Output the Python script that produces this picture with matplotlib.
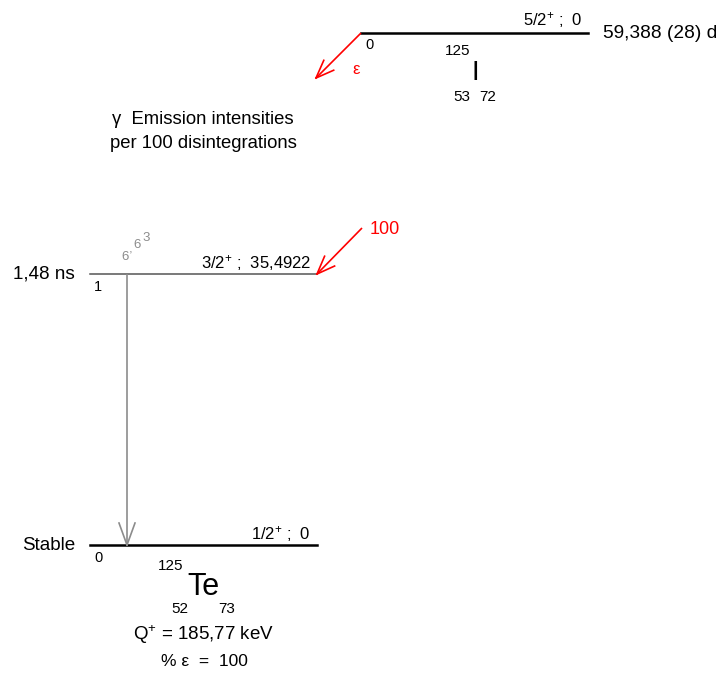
import numpy as np
import matplotlib
matplotlib.use('Agg')
import matplotlib.pyplot as plt

plt.rcParams['font.family'] = ['Liberation Sans', 'DejaVu Sans']
plt.rcParams['mathtext.fontset'] = 'custom'
plt.rcParams['mathtext.rm'] = 'Liberation Sans'
plt.rcParams['mathtext.default'] = 'regular'

# --- decay data (125I -> 125Te, electron capture) ---
parent_symbol = 'I'
parent_mass, parent_z, parent_n = 125, 53, 72
parent_spin = '5/2'
parent_energy = '0'
parent_half_life = '59,388 (28) d'

daughter_symbol = 'Te'
daughter_mass, daughter_z, daughter_n = 125, 52, 73
level_index = ['0', '1']
level_spin = ['1/2', '3/2']
level_energy = ['0', '35,4922']
level_half_life = ['Stable', '1,48 ns']
level_feeding = [None, '100']

gamma_from = [1]
gamma_to = [0]
gamma_intensity = ['6,63']

q_value = '185,77 keV'
branching = '100'

# --- layout (pixel coordinates of the 722x674 canvas) ---
level_y = [545, 274]
level_x0, level_x1 = 90, 317
parent_y, parent_x0, parent_x1 = 33, 361, 588
gamma_x = 127

fig = plt.figure(figsize=(7.22, 6.74), dpi=100)
ax = fig.add_axes([0, 0, 1, 1])
ax.set_xlim(0, 722)
ax.set_ylim(674, 0)
ax.axis('off')

RED = '#ff0000'
GRAY = '#8c8c8c'


def open_arrow(x0, y0, x1, y1, color, lw=1.2, head_len=18, head_w=7):
    ax.plot([x0, x1], [y0, y1], color=color, lw=lw, solid_capstyle='butt')
    d = np.array([x1 - x0, y1 - y0], dtype=float)
    d /= np.hypot(*d)
    n = np.array([-d[1], d[0]])
    tip = np.array([x1, y1])
    base = tip - d * head_len
    for s in (1, -1):
        b = base + s * n * head_w
        ax.plot([tip[0], b[0]], [tip[1], b[1]], color=color, lw=lw)


# parent level
ax.plot([parent_x0, parent_x1], [parent_y, parent_y], color='black', lw=1.8)
ax.text(583, 25, parent_spin + '$^{+}$ ;  ' + parent_energy, fontsize=12,
        ha='right', va='baseline')
ax.text(603, 33, parent_half_life, fontsize=13.8, ha='left', va='center')
ax.text(365, 45, parent_energy, fontsize=10.5, ha='left', va='center')
ax.text(458, 51, str(parent_mass), fontsize=11, ha='center', va='center')
ax.text(475, 73, parent_symbol, fontsize=20, ha='center', va='center')
ax.text(462, 97, str(parent_z), fontsize=11, ha='center', va='center')
ax.text(488, 97, str(parent_n), fontsize=11, ha='center', va='center')

# electron capture arrow
open_arrow(parent_x0, parent_y, 316, 78, RED)
ax.text(356, 70, 'ε', fontsize=12, color=RED, ha='center', va='center')

ax.text(203, 119, 'γ  Emission intensities', fontsize=13.3, ha='center', va='center')
ax.text(203, 143, 'per 100 disintegrations', fontsize=13.3, ha='center', va='center')

# daughter levels
for i, y in enumerate(level_y):
    col = 'black' if i == 0 else '#555555'
    lw = 1.8 if i == 0 else 1.1
    ax.plot([level_x0, level_x1], [y, y], color=col, lw=lw)
    ax.text(75, y, level_half_life[i], fontsize=13.6, ha='right', va='center')
    ax.text(94, y + 13, level_index[i], fontsize=10.5, ha='left', va='center')
    ax.text(311, y - 6, level_spin[i] + '$^{+}$ ;  ' + level_energy[i],
            fontsize=12, ha='right', va='baseline')
    if level_feeding[i] is not None:
        open_arrow(362, y - 46, level_x1, y, RED)
        ax.text(370, y - 45, level_feeding[i], fontsize=13, color=RED,
                ha='left', va='center')

# gamma transitions
for g, (a, b) in enumerate(zip(gamma_from, gamma_to)):
    open_arrow(gamma_x, level_y[a], gamma_x, level_y[b], GRAY, lw=1.2,
               head_len=22, head_w=8)
    offsets = [(121, 260), (128.5, 253), (133, 248), (142, 241)]
    for ch, (cx, cy) in zip(gamma_intensity[g], offsets):
        ax.text(cx, cy, ch, fontsize=9.5, color=GRAY, ha='left', va='baseline')

# daughter nuclide label
ax.text(171, 566, str(daughter_mass), fontsize=11, ha='center', va='center')
ax.text(203, 587, daughter_symbol, fontsize=22, ha='center', va='center')
ax.text(180, 609, str(daughter_z), fontsize=11, ha='center', va='center')
ax.text(227, 609, str(daughter_n), fontsize=11, ha='center', va='center')

ax.text(204, 635, 'Q$^{+}$ = ' + q_value, fontsize=13.5, ha='center', va='center')
ax.text(204, 662, '% ε  =  ' + branching, fontsize=12.5, ha='center', va='center')

fig.savefig('out.png', dpi=100)
